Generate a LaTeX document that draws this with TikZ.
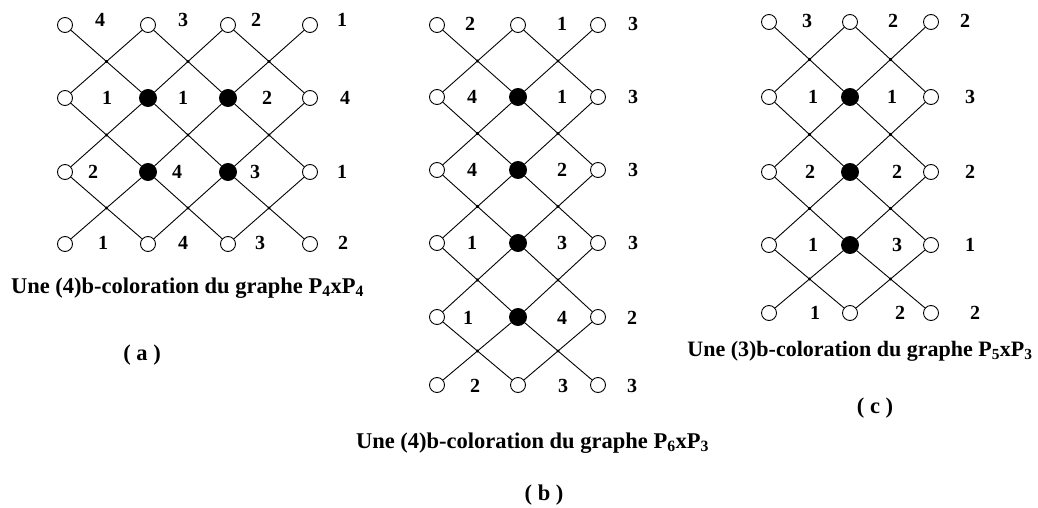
\documentclass[tikz,border=0pt]{standalone}
\usepackage{fontspec}
\setmainfont{Liberation Serif}
\usetikzlibrary{calc}
\tikzset{
  wnode/.style={circle,draw,fill=white,line width=0.9pt,minimum size=15pt,inner sep=0pt},
  bnode/.style={circle,draw,fill=black,line width=0.9pt,minimum size=17pt,inner sep=0pt},
  ln/.style={line width=0.9pt},
  lab/.style={font=\fontsize{20}{24}\selectfont\bfseries,inner sep=0pt},
  captxt/.style={font=\fontsize{22.5}{27}\selectfont\bfseries,inner sep=0pt},
}
\newcommand\drawgrid[5]{%
  \foreach \x [count=\i from 0] in {#2} {
    \foreach \y [count=\j from 0] in {#3} {
      \pgfmathtruncatemacro\isb{(\i>0)*(\i<#4)*(\j>0)*(\j<#5)}
      \ifnum\isb=1 \node[bnode] (#1-\i-\j) at (\x,\y) {};
      \else \node[wnode] (#1-\i-\j) at (\x,\y) {};\fi
    }
  }
  \pgfmathtruncatemacro\mc{#4-1}
  \pgfmathtruncatemacro\mr{#5-1}
  \foreach \i in {0,...,\mc} {
    \foreach \j in {0,...,\mr} {
      \pgfmathtruncatemacro\ii{\i+1}
      \pgfmathtruncatemacro\jj{\j+1}
      \draw[ln] (#1-\i-\j) -- (#1-\ii-\jj);
      \draw[ln] (#1-\ii-\j) -- (#1-\i-\jj);
      \fill ($(#1-\i-\j)!0.5!(#1-\ii-\jj)$) circle (1.6pt);
    }
  }
}
\begin{document}
\begin{tikzpicture}[x=1pt,y=-1pt]
\useasboundingbox (0,0) rectangle (1038,508);
% ---------- (a) P4 x P4 ----------
\drawgrid{a}{65,148,228,310}{25,98,172,244}{3}{3}
\foreach \x/\v [count=\i from 0] in {100/4,183/3,256/2,342/1} \node[lab] (la-\i-0) at (\x,20) {\v};
\foreach \x/\v [count=\i from 0] in {107/1,183/1,267/2,345/4} \node[lab] (la-\i-1) at (\x,98) {\v};
\foreach \x/\v [count=\i from 0] in {93/2,177/4,255/3,342/1} \node[lab] (la-\i-2) at (\x,172) {\v};
\foreach \x/\v [count=\i from 0] in {103/1,183/4,260/3,343/2} \node[lab] (la-\i-3) at (\x,243) {\v};
\node[captxt] (capa) at (187.5,288) {Une (4)b-coloration du graphe P\textsubscript{4}xP\textsubscript{4}};
\node[captxt] (suba) at (142,355) {( a )};
% ---------- (b) P6 x P3 ----------
\drawgrid{b}{437,518,598}{25,97,170,243,317,385}{2}{5}
\foreach \x/\v [count=\i from 0] in {470/2,562/1,633/3} \node[lab] (lb-\i-0) at (\x,24) {\v};
\foreach \x/\v [count=\i from 0] in {472/4,562/1,633/3} \node[lab] (lb-\i-1) at (\x,97) {\v};
\foreach \x/\v [count=\i from 0] in {472/4,562/2,633/3} \node[lab] (lb-\i-2) at (\x,170) {\v};
\foreach \x/\v [count=\i from 0] in {472/1,562/3,633/3} \node[lab] (lb-\i-3) at (\x,243) {\v};
\foreach \x/\v [count=\i from 0] in {468/1,562/4,632/2} \node[lab] (lb-\i-4) at (\x,318) {\v};
\foreach \x/\v [count=\i from 0] in {475/2,563/3,632/3} \node[lab] (lb-\i-5) at (\x,386) {\v};
\node[captxt] (capb) at (532.5,443) {Une (4)b-coloration du graphe P\textsubscript{6}xP\textsubscript{3}};
\node[captxt] (subb) at (544,495) {( b )};
% ---------- (c) P5 x P3 ----------
\drawgrid{c}{769,850,931}{22,97,172,245,313}{2}{4}
\foreach \x/\v [count=\i from 0] in {807/3,893/2,965/2} \node[lab] (lc-\i-0) at (\x,21) {\v};
\foreach \x/\v [count=\i from 0] in {813/1,892/1,970/3} \node[lab] (lc-\i-1) at (\x,97) {\v};
\foreach \x/\v [count=\i from 0] in {810/2,897/2,970/2} \node[lab] (lc-\i-2) at (\x,172) {\v};
\foreach \x/\v [count=\i from 0] in {813/1,897/3,970/1} \node[lab] (lc-\i-3) at (\x,245) {\v};
\foreach \x/\v [count=\i from 0] in {815/1,900/2,975/2} \node[lab] (lc-\i-4) at (\x,313) {\v};
\node[captxt,font=\fontsize{22}{27}\selectfont\bfseries] (capc) at (860,351) {Une (3)b-coloration du graphe P\textsubscript{5}xP\textsubscript{3}};
\node[captxt] (subc) at (875,408) {( c )};
\end{tikzpicture}
\end{document}
